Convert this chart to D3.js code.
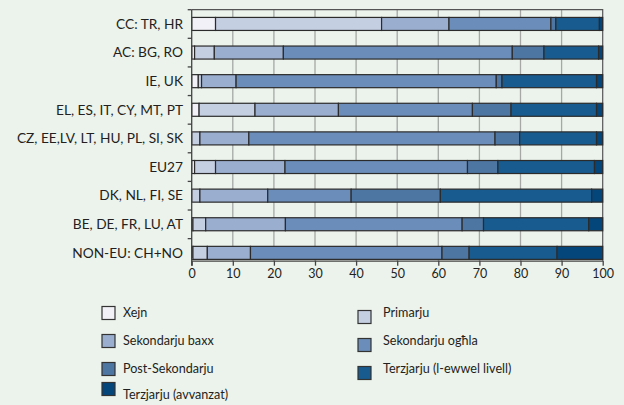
<!DOCTYPE html>
<html>
<head>
<meta charset="utf-8">
<script src="https://cdn.jsdelivr.net/npm/d3@7"></script>
<style>
  body { margin: 0; background: #ecf2ec; }
  svg { display: block; }
  text { font-family: Lato, "Open Sans", sans-serif; fill: #231f20; }
</style>
</head>
<body>
<script>
'use strict';

// categories, top to bottom
const regions = ["CC: TR, HR", "AC: BG, RO", "IE, UK", "EL, ES, IT, CY, MT, PT",
  "CZ, EE,LV, LT, HU, PL, SI, SK", "EU27", "DK, NL, FI, SE", "BE, DE, FR, LU, AT", "NON-EU: CH+NO"];

// series values (%), one per region
const xejn     = [5.8, 0.7, 1.6, 1.8, 0.0, 0.7, 0.0, 0.3, 0.3];
const primarju = [40.4, 4.8, 0.8, 13.6, 2.0, 5.1, 2.0, 3.1, 3.5];
const sekBaxx  = [16.4, 16.8, 8.4, 20.3, 11.9, 16.9, 16.5, 19.4, 10.5];
const sekOghla = [24.8, 55.7, 63.3, 32.6, 59.9, 44.4, 20.3, 43.0, 46.6];
const postSek  = [1.2, 7.7, 1.4, 9.4, 6.0, 7.4, 21.7, 5.2, 6.6];
const terz1    = [10.6, 13.3, 23.0, 20.8, 18.7, 23.5, 36.8, 25.6, 21.4];
const terzAvv  = [0.8, 1.0, 1.5, 1.5, 1.5, 2.0, 2.7, 3.4, 11.1];

const seriesNames = ["Xejn", "Primarju", "Sekondarju baxx", "Sekondarju ogħla",
  "Post-Sekondarju", "Terzjarju (l-ewwel livell)", "Terzjarju (avvanzat)"];
const seriesValues = [xejn, primarju, sekBaxx, sekOghla, postSek, terz1, terzAvv];
const colors = ["#f1f1f7", "#c5cfe2", "#9aaecf", "#6b8db9", "#4e76a2", "#175b8f", "#04457a"];
const xTicks = [0, 10, 20, 30, 40, 50, 60, 70, 80, 90, 100];

(function() {

  const svg = d3.select('body').append('svg')
    .attr('width', 624)
    .attr('height', 405);

  // build table for the stack layout
  const table = regions.map((r, i) => {
    let row = { region: r };
    seriesNames.forEach((s, j) => { row[s] = seriesValues[j][i]; });
    return row;
  });
  const stacked = d3.stack().keys(seriesNames)(table);

  const x = d3.scaleLinear().domain([0, 100]).range([191.7, 602.7]);
  const y = d3.scaleBand().domain(regions).range([9.7, 267.1]).paddingInner(0.545).paddingOuter(0.27);
  const axisY = 260.7;
  const plotTop = 9.7;

  // vertical grid
  svg.append('g')
    .selectAll('line')
    .data(xTicks.slice(1, -1))
    .enter().append('line')
      .attr('x1', d => x(d)).attr('x2', d => x(d))
      .attr('y1', plotTop).attr('y2', axisY)
      .attr('stroke', '#a5a8a5')
      .attr('stroke-width', 1.3);

  // frame: top and right
  svg.append('path')
    .attr('d', `M${x(0)},${plotTop}H${x(100)}V${axisY}`)
    .attr('fill', 'none')
    .attr('stroke', '#555')
    .attr('stroke-width', 1.2);

  // bars
  svg.append('g')
    .selectAll('g')
    .data(stacked)
    .enter().append('g')
      .attr('fill', (d, i) => colors[i])
    .selectAll('rect')
    .data(d => d.filter(p => p[1] - p[0] > 0))
    .enter().append('rect')
      .attr('x', d => x(d[0]))
      .attr('y', d => y(d.data.region))
      .attr('width', d => x(d[1]) - x(d[0]))
      .attr('height', y.bandwidth())
      .attr('stroke', '#2b2b2b')
      .attr('stroke-width', 1.2);

  // x axis
  const xAxis = d3.axisBottom(x).tickValues(xTicks).tickSize(5).tickSizeOuter(0).tickPadding(3);
  const gx = svg.append('g')
    .attr('transform', `translate(0,${axisY})`)
    .call(xAxis);
  gx.select('.domain').attr('stroke', '#444').attr('stroke-width', 1.3);
  gx.selectAll('.tick line').attr('stroke', '#444').attr('stroke-width', 1.3);
  gx.selectAll('.tick text')
    .style('font-family', 'Lato, sans-serif')
    .style('font-size', '12.5px')
    .attr('fill', '#231f20');

  // y axis line and ticks at band edges
  const step = y.step();
  const edges = d3.range(regions.length).map(i => y.range()[0] + i * step);
  svg.append('line')
    .attr('x1', x(0)).attr('x2', x(0))
    .attr('y1', plotTop).attr('y2', axisY + 5)
    .attr('stroke', '#444').attr('stroke-width', 1.3);
  svg.append('g')
    .selectAll('line')
    .data(edges)
    .enter().append('line')
      .attr('x1', x(0) - 4).attr('x2', x(0))
      .attr('y1', d => d).attr('y2', d => d)
      .attr('stroke', '#444').attr('stroke-width', 1.3);

  // category labels
  svg.append('g')
    .selectAll('text')
    .data(regions)
    .enter().append('text')
      .attr('x', 183)
      .attr('y', d => y(d) + y.bandwidth() / 2)
      .attr('dy', '0.35em')
      .attr('text-anchor', 'end')
      .style('font-size', '13.7px')
      .text(d => d);

  // legend
  const legendX = [[102, 123], [358, 383]];
  const legendY = [313, 341, 369, 395];
  const legend = svg.append('g');
  seriesNames.forEach((name, i) => {
    let col = i % 2;
    let row = Math.floor(i / 2);
    let ty = legendY[row];
    let sy = col == 1 ? ty + 4 : ty;
    if (i == 6) sy = ty - 6;
    legend.append('rect')
      .attr('x', legendX[col][0])
      .attr('y', sy - 6.5)
      .attr('width', 13)
      .attr('height', 13)
      .attr('fill', colors[i])
      .attr('stroke', '#333')
      .attr('stroke-width', 1.2);
    legend.append('text')
      .attr('x', legendX[col][1])
      .attr('y', ty)
      .attr('dy', '0.35em')
      .style('font-size', '12.6px')
      .text(name);
  });
})();
</script>
</body>
</html>
